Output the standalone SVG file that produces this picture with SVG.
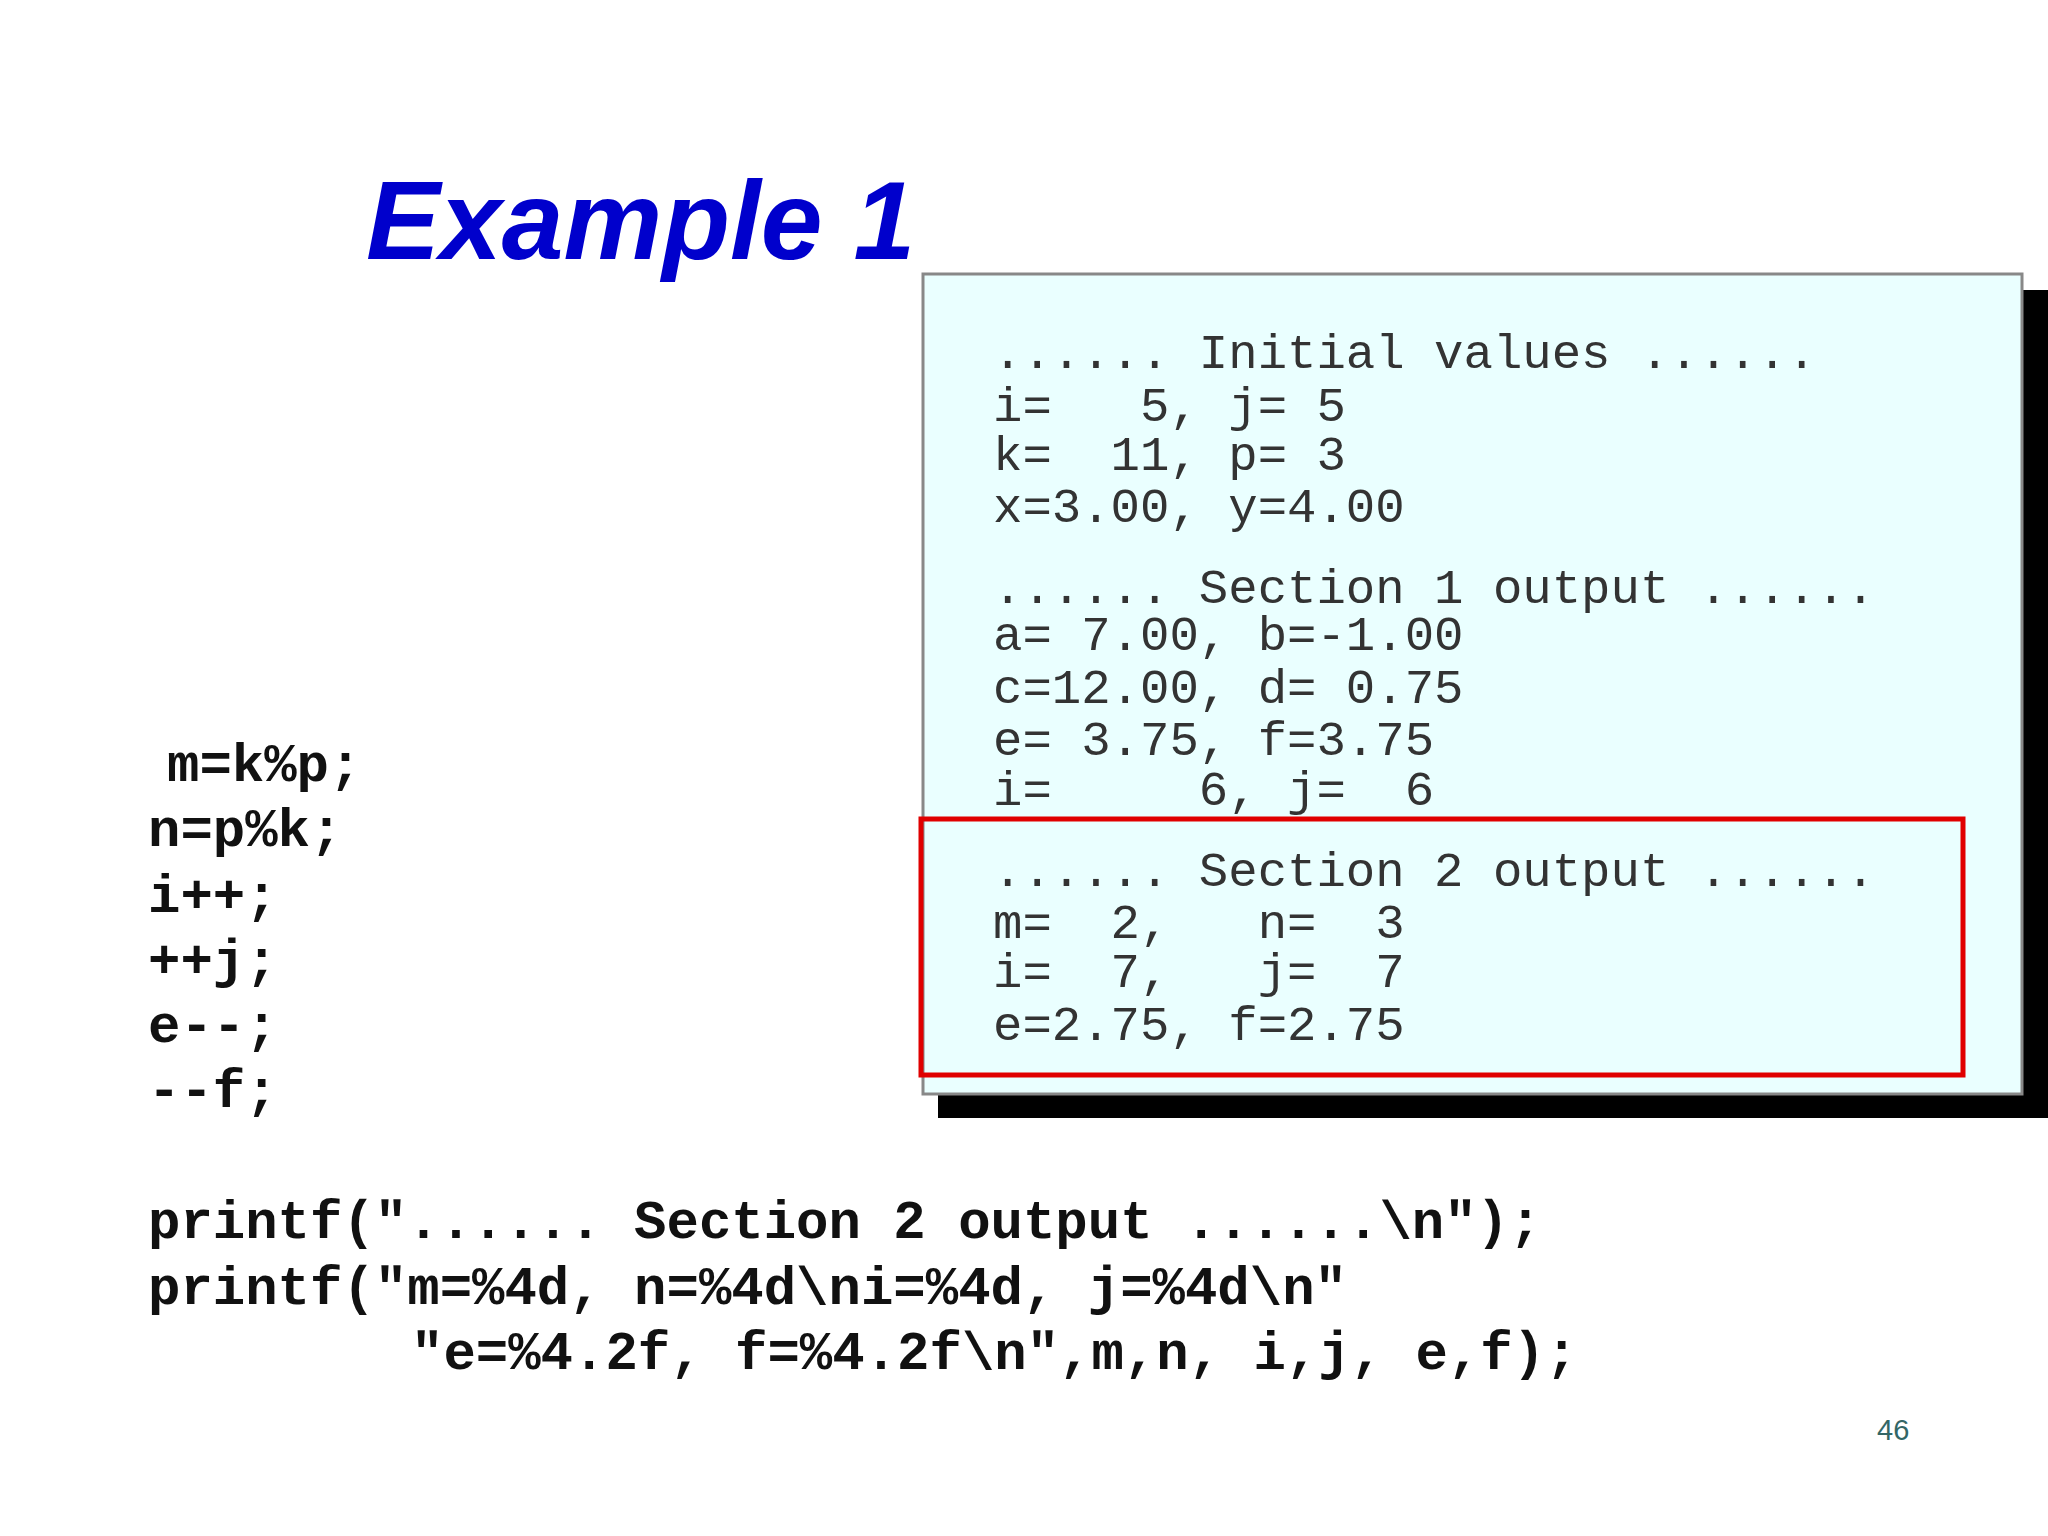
<svg xmlns="http://www.w3.org/2000/svg" width="2048" height="1536" viewBox="0 0 2048 1536">
<style>
.t{font-family:"Liberation Mono","DejaVu Sans Mono",monospace;font-size:49px;fill:#333;white-space:pre}
.c{font-family:"Liberation Mono","DejaVu Sans Mono",monospace;font-size:54px;font-weight:bold;fill:#111;white-space:pre}
</style>
<rect width="2048" height="1536" fill="#fff"/>
<text x="366" y="259" font-family="Liberation Sans,Arial,sans-serif" font-size="111" font-weight="bold" font-style="italic" fill="#0000CC">Example 1</text>
<g id="output">
<rect x="938" y="290" width="1110" height="828" fill="#000"/>
<rect x="923" y="274" width="1099" height="820" fill="#EAFFFF" stroke="#888" stroke-width="3"/>
<text class="t" x="993" y="368" xml:space="preserve">...... Initial values ......</text>
<text class="t" x="993" y="421" xml:space="preserve">i=   5, j= 5</text>
<text class="t" x="993" y="470" xml:space="preserve">k=  11, p= 3</text>
<text class="t" x="993" y="522" xml:space="preserve">x=3.00, y=4.00</text>
<text class="t" x="993" y="603" xml:space="preserve">...... Section 1 output ......</text>
<text class="t" x="993" y="650" xml:space="preserve">a= 7.00, b=-1.00</text>
<text class="t" x="993" y="703" xml:space="preserve">c=12.00, d= 0.75</text>
<text class="t" x="993" y="755" xml:space="preserve">e= 3.75, f=3.75</text>
<text class="t" x="993" y="805" xml:space="preserve">i=     6, j=  6</text>
<text class="t" x="993" y="886" xml:space="preserve">...... Section 2 output ......</text>
<text class="t" x="993" y="938" xml:space="preserve">m=  2,   n=  3</text>
<text class="t" x="993" y="987" xml:space="preserve">i=  7,   j=  7</text>
<text class="t" x="993" y="1040" xml:space="preserve">e=2.75, f=2.75</text>
<rect x="921" y="819" width="1042" height="256" fill="none" stroke="#E00000" stroke-width="5"/>
</g>
<g id="code">
<text class="c" x="167" y="781">m=k%p;</text>
<text class="c" x="148" y="846">n=p%k;</text>
<text class="c" x="148" y="912">i++;</text>
<text class="c" x="148" y="977">++j;</text>
<text class="c" x="148" y="1042">e--;</text>
<text class="c" x="148" y="1107">--f;</text>
<text class="c" x="148" y="1238" xml:space="preserve">printf("...... Section 2 output ......\n");</text>
<text class="c" x="148" y="1304" xml:space="preserve">printf("m=%4d, n=%4d\ni=%4d, j=%4d\n"</text>
<text class="c" x="411" y="1369" xml:space="preserve">"e=%4.2f, f=%4.2f\n",m,n, i,j, e,f);</text>
</g>
<text x="1877" y="1440" font-family="Liberation Sans,Arial,sans-serif" font-size="29" fill="#336666">46</text>
</svg>
